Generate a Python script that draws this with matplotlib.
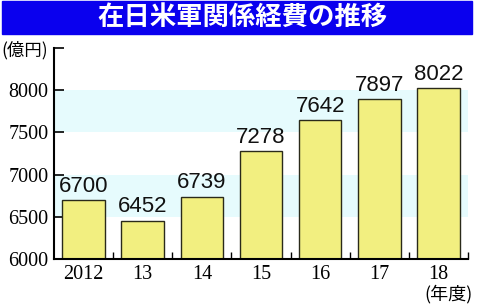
import matplotlib
matplotlib.use('Agg')
import matplotlib.pyplot as plt
from matplotlib.patches import Rectangle

# data
years = ['2012', '13', '14', '15', '16', '17', '18']
costs = [6700, 6452, 6739, 7278, 7642, 7897, 8022]
yticks = [6000, 6500, 7000, 7500, 8000]

cjk = ['Noto Sans CJK JP', 'DejaVu Sans']

fig = plt.figure(figsize=(4.8, 3.06), dpi=100)

# title bar
fig.patches.append(Rectangle((2/480, 1 - 34/306), 470/480, 33/306,
                             transform=fig.transFigure, color='#0a00ee', zorder=0))
fig.text(242/480, 1 - 17.5/306, '在日米軍関係経費の推移', color='white',
         fontsize=19, fontweight='bold', family=cjk, ha='center', va='center')

ax = fig.add_axes([54/480, 1 - 259/306, 414/480, 211/306])

# light bands
for lo in (6500, 7500):
    ax.axhspan(lo, lo + 500, color='#e6fbfd', lw=0, zorder=0)

x = range(len(years))
ax.bar(x, costs, width=0.72, color='#f2ef80', edgecolor='#2a2a1a', linewidth=1.0, zorder=2)

for i, v in enumerate(costs):
    ax.text(i, v + 40, str(v), ha='center', va='bottom', fontsize=16,
            family='Liberation Sans', color='#111111')

ax.set_xlim(-0.5, len(years) - 0.5)
ax.set_ylim(6000, 8500)

ax.set_yticks(yticks + [8500])
ax.set_yticklabels([str(t) for t in yticks] + [''], family='Liberation Serif', fontsize=14.5)
ax.tick_params(axis='y', direction='in', length=7, width=1.2, pad=4)

ax.set_xticks([i + 0.5 for i in range(len(years))])
ax.set_xticklabels([])
ax.set_xticks(list(x), minor=True)
ax.set_xticklabels(years, minor=True, family='Liberation Serif', fontsize=14.5)
ax.tick_params(axis='x', which='major', direction='in', length=5, width=1)
ax.tick_params(axis='x', which='minor', length=0, pad=4)

for s in ('top', 'right'):
    ax.spines[s].set_visible(False)
ax.spines['left'].set_linewidth(1.5)
ax.spines['bottom'].set_linewidth(1.5)

fig.text(1/480, 1 - 50/306, '(億円)', fontsize=12.5, family=cjk, ha='left', va='center')
fig.text(473/480, 1 - 294/306, '(年度)', fontsize=13, family=cjk, ha='right', va='center')

fig.savefig('out.png', dpi=100)
